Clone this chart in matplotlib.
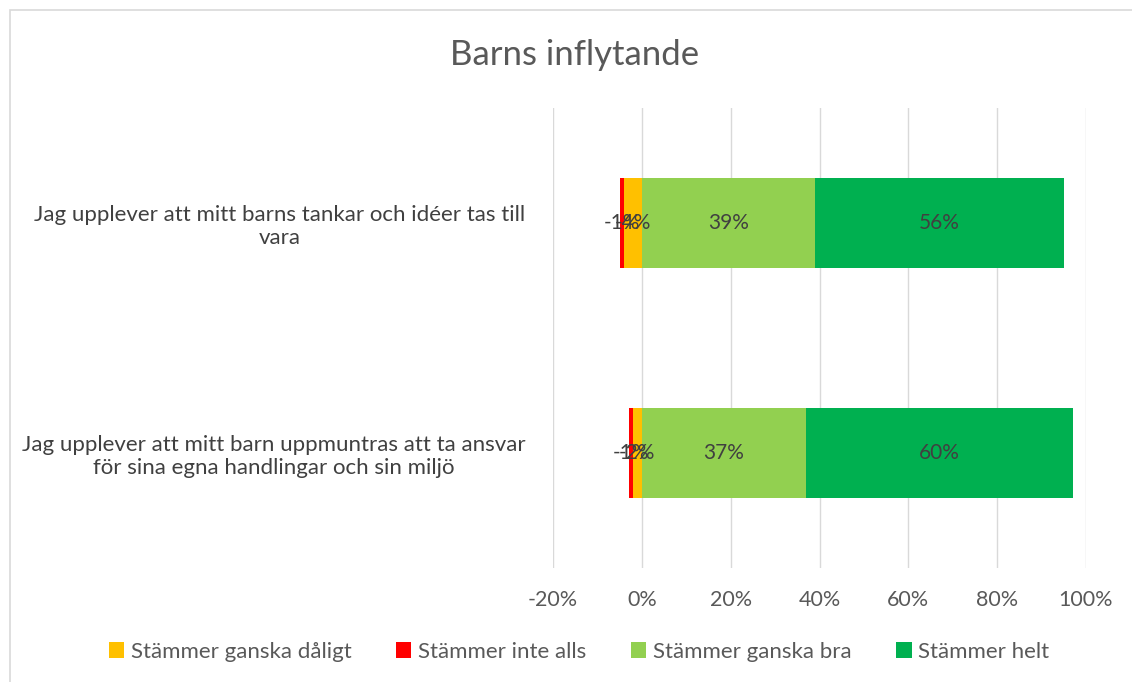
import matplotlib.pyplot as plt
from matplotlib.patches import Rectangle

plt.rcParams['font.family'] = ['Lato', 'DejaVu Sans']

# Data
categories = ['Jag upplever att mitt barns tankar och idéer tas till\nvara',
              'Jag upplever att mitt barn uppmuntras att ta ansvar\nför sina egna handlingar och sin miljö']
ganska_daligt = [-4, -2]
inte_alls = [-1, -1]
ganska_bra = [39, 37]
helt = [56, 60]
series_names = ['Stämmer ganska dåligt', 'Stämmer inte alls', 'Stämmer ganska bra', 'Stämmer helt']
colors = ['#ffc000', '#ff0000', '#92d050', '#00b050']
xticks = [-20, 0, 20, 40, 60, 80, 100]

fig = plt.figure(figsize=(11.32, 6.82), dpi=100)
ax = fig.add_axes([553 / 1132, 1 - 568 / 682, (1086 - 553) / 1132, (568 - 108) / 682])

# chart border
fig.patches.append(Rectangle((10 / 1132, -0.1), 1.2, 1 - 10 / 682 + 0.1, transform=fig.transFigure,
                             fill=False, edgecolor='#d9d9d9', linewidth=1.2))

y = list(range(len(categories)))
h = 0.39
txt = '#404040'

bars = []
bars.append(ax.barh(y, ganska_daligt, height=h, color=colors[0], label=series_names[0], zorder=3))
bars.append(ax.barh(y, inte_alls, left=ganska_daligt, height=h, color=colors[1], label=series_names[1], zorder=3))
bars.append(ax.barh(y, ganska_bra, height=h, color=colors[2], label=series_names[2], zorder=3))
bars.append(ax.barh(y, helt, left=ganska_bra, height=h, color=colors[3], label=series_names[3], zorder=3))

vals = [ganska_daligt, inte_alls, ganska_bra, helt]
for b, v in zip(bars, vals):
    ax.bar_label(b, labels=[f'{x}%' for x in v], label_type='center', color=txt, fontsize=15)

ax.set_xlim(-20, 100)
ax.set_ylim(1.5, -0.5)
ax.set_xticks(xticks)
ax.set_xticklabels([f'{t}%' for t in xticks], fontsize=15.5, color='#595959')
ax.set_yticks(y)
ax.set_yticklabels(categories, fontsize=16, color=txt, multialignment='center')
ax.tick_params(length=0, pad=20)
ax.tick_params(axis='x', pad=16)
ax.grid(axis='x', color='#d9d9d9', linewidth=1, zorder=0)
for s in ax.spines.values():
    s.set_visible(False)

fig.text(575 / 1132, 1 - 55 / 682, 'Barns inflytande', ha='center', va='center', fontsize=25, color='#595959')

fig.legend(loc='center', bbox_to_anchor=(579 / 1132, 1 - 652 / 682), ncol=4, frameon=False,
           fontsize=16, labelcolor='#595959', handlelength=0.7, handleheight=0.7,
           handletextpad=0.3, columnspacing=2.0)

fig.savefig('out.png', dpi=100)
